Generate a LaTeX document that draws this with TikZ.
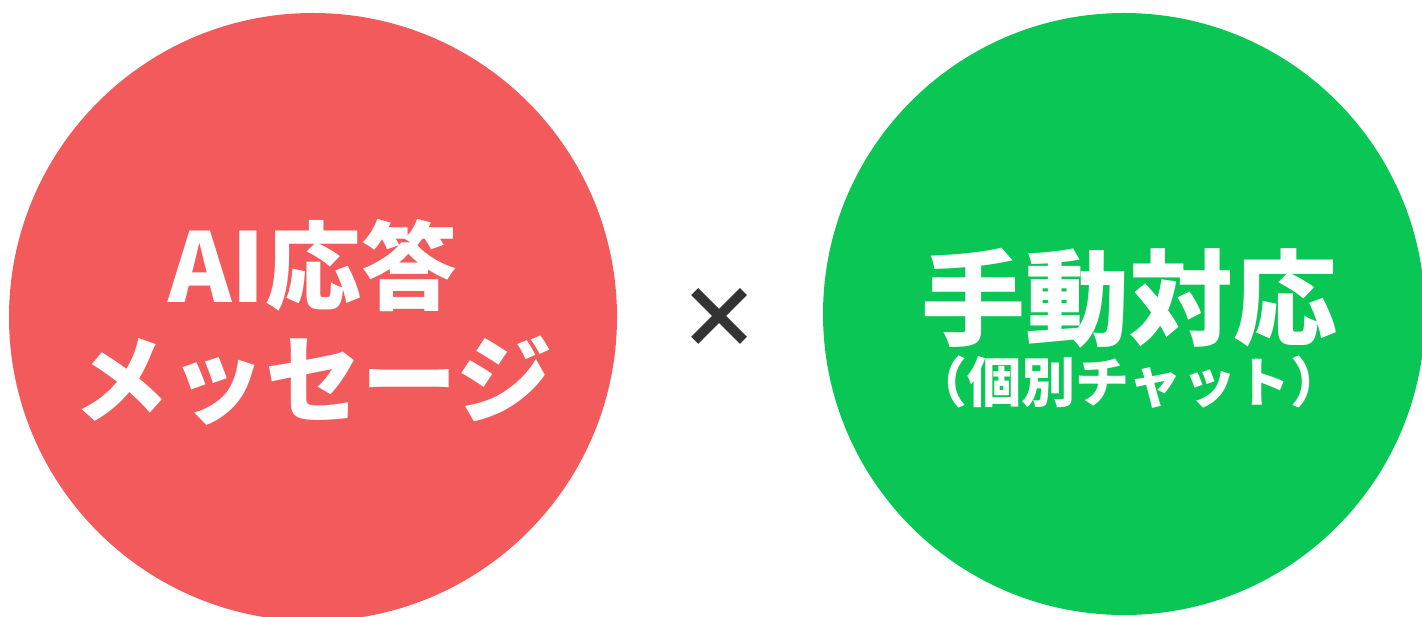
\documentclass[tikz,border=0pt]{standalone}
\usepackage{fontspec}
\newfontfamily\cjk{Noto Sans CJK JP}[BoldFont={Noto Sans CJK JP Black}]
\definecolor{redc}{RGB}{242,90,91}
\definecolor{greenc}{RGB}{10,198,85}
\definecolor{crossc}{RGB}{51,51,51}
\begin{document}
\begin{tikzpicture}[x=1pt,y=-1pt,
  bigtext/.style={text=white,font=\cjk\bfseries\fontsize{96}{113}\selectfont,align=center,inner sep=0pt}]
\useasboundingbox (0,0) rectangle (1422,617);
\clip (0,0) rectangle (1422,617);
\fill[redc] (313,317) circle[radius=304];
\fill[greenc] (1124,314) circle[radius=301];
\node[bigtext] (left) at (313,322) {AI応答\\メッセージ};
\node[text=white,font=\cjk\bfseries\fontsize{104}{104}\selectfont,inner sep=0pt] (rt) at (1129,298) {手動対応};
\node[text=white,font=\cjk\bfseries\fontsize{54}{54}\selectfont,inner sep=0pt] (rb) at (1129,382) {（個別チャット）};
\node[text=crossc,font=\cjk\bfseries\fontsize{84}{84}\selectfont,inner sep=0pt] (x) at (719,318) {×};
\end{tikzpicture}
\end{document}
